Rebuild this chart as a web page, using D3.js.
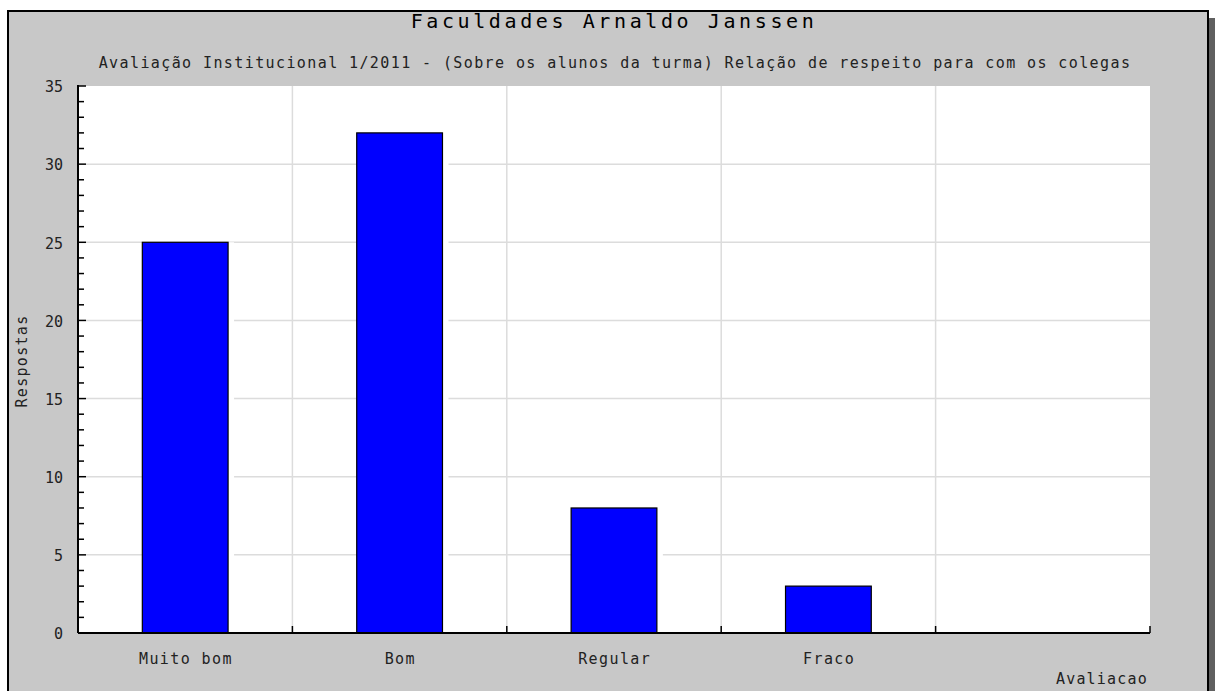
<!DOCTYPE html>
<html><head><meta charset="utf-8">
<script src="https://cdn.jsdelivr.net/npm/d3@7"></script>
<style>html,body{margin:0;padding:0;background:#fff;} svg{display:block;}</style>
</head><body>
<svg id="c" width="1215" height="691"></svg>
<script>
const title = "Faculdades Arnaldo Janssen";
const subtitle = "Avaliação Institucional 1/2011 - (Sobre os alunos da turma) Relação de respeito para com os colegas";
const categories = ["Muito bom", "Bom", "Regular", "Fraco", ""];
const values = [25, 32, 8, 3, null];
const yTicks = [0, 5, 10, 15, 20, 25, 30, 35];
const yLabel = "Respostas";
const xLabel = "Avaliacao";

const svg = d3.select("#c");
const W = 1215, H = 691;
const mono = "'DejaVu Sans Mono', monospace";
const plot = {l: 78, r: 1150, t: 86, b: 633};

// outer panel + shadow
svg.append("rect").attr("x", 1209).attr("y", 18).attr("width", 8).attr("height", H).attr("fill", "#606060");
svg.append("rect").attr("x", 8).attr("y", 11).attr("width", 1200).attr("height", H + 10)
  .attr("fill", "#c8c8c8").attr("stroke", "#000").attr("stroke-width", 2);

// plot area
svg.append("rect").attr("x", plot.l).attr("y", plot.t).attr("width", plot.r - plot.l).attr("height", plot.b - plot.t).attr("fill", "#fff");

const x = d3.scaleBand().domain(categories.map((c, i) => i)).range([plot.l, plot.r]).paddingInner(0).paddingOuter(0);
const y = d3.scaleLinear().domain([0, 35]).range([plot.b, plot.t]);

// gridlines
const grid = svg.append("g");
yTicks.filter(v => v > 0 && v < 35).forEach(v => {
  grid.append("line").attr("x1", plot.l + 8).attr("x2", plot.r).attr("y1", y(v)).attr("y2", y(v))
    .attr("stroke", "#dcdcdc").attr("stroke-width", 1.5);
});
categories.forEach((c, i) => {
  if (i === 0) return;
  const xx = x(i);
  grid.append("line").attr("x1", xx).attr("x2", xx).attr("y1", plot.t).attr("y2", plot.b)
    .attr("stroke", "#dcdcdc").attr("stroke-width", 1.5);
});

// bars
const bw = x.bandwidth() * 0.4;
values.forEach((v, i) => {
  if (v == null) return;
  const cx = x(i) + x.bandwidth() / 2;
  svg.append("rect").attr("x", cx - bw / 2).attr("y", y(v)).attr("width", bw + 6).attr("height", y(0) - y(v)).attr("fill", "#fff");
  svg.append("rect").attr("x", cx - bw / 2).attr("y", y(v)).attr("width", bw).attr("height", y(0) - y(v))
    .attr("fill", "#0000ff").attr("stroke", "#000").attr("stroke-width", 1.2);
});

// axes
const ax = svg.append("g").attr("stroke", "#000");
ax.append("line").attr("x1", plot.l).attr("x2", plot.l).attr("y1", plot.t - 1).attr("y2", plot.b).attr("stroke-width", 2);
ax.append("line").attr("x1", plot.l).attr("x2", plot.r).attr("y1", plot.b).attr("y2", plot.b).attr("stroke-width", 2);
d3.range(0, 36).forEach(v => {
  const major = v % 5 === 0;
  ax.append("line").attr("x1", plot.l).attr("x2", plot.l + (major ? 8 : 6)).attr("y1", y(v)).attr("y2", y(v)).attr("stroke-width", 1.5);
});
categories.forEach((c, i) => {
  if (i === 0) return;
  ax.append("line").attr("x1", x(i)).attr("x2", x(i)).attr("y1", plot.b).attr("y2", plot.b - 7).attr("stroke-width", 1.5);
});
ax.append("line").attr("x1", plot.r).attr("x2", plot.r).attr("y1", plot.b).attr("y2", plot.b - 7).attr("stroke-width", 1.5);

// y tick labels
yTicks.forEach(v => {
  svg.append("text").attr("x", 63).attr("y", y(v) + 1).attr("dy", "0.35em")
    .attr("text-anchor", "end").attr("font-family", mono).attr("font-size", 15).attr("fill", "#222")
    .text(v);
});

// x labels
categories.forEach((c, i) => {
  if (!c) return;
  svg.append("text").attr("x", x(i) + x.bandwidth() / 2 + 0.7).attr("y", 664).attr("text-anchor", "middle")
    .attr("font-family", mono).attr("font-size", 15).attr("letter-spacing", 1.4).attr("fill", "#222").text(c);
});

// axis titles
svg.append("text").attr("x", 1148).attr("y", 684).attr("text-anchor", "end")
  .attr("font-family", mono).attr("font-size", 15).attr("letter-spacing", 1.2).attr("fill", "#222").text(xLabel);
svg.append("text").attr("transform", "translate(27,361) rotate(-90)").attr("text-anchor", "middle")
  .attr("font-family", mono).attr("font-size", 15).attr("letter-spacing", 1.3).attr("fill", "#222").text(yLabel);

// titles
svg.append("text").attr("x", 614).attr("y", 28).attr("text-anchor", "middle")
  .attr("font-family", mono).attr("font-size", 20).attr("letter-spacing", 3.6).attr("fill", "#000").text(title);
svg.append("text").attr("x", 615).attr("y", 68).attr("text-anchor", "middle")
  .attr("font-family", mono).attr("font-size", 15).attr("letter-spacing", 1.4).attr("fill", "#222").text(subtitle);
</script>
</body></html>
